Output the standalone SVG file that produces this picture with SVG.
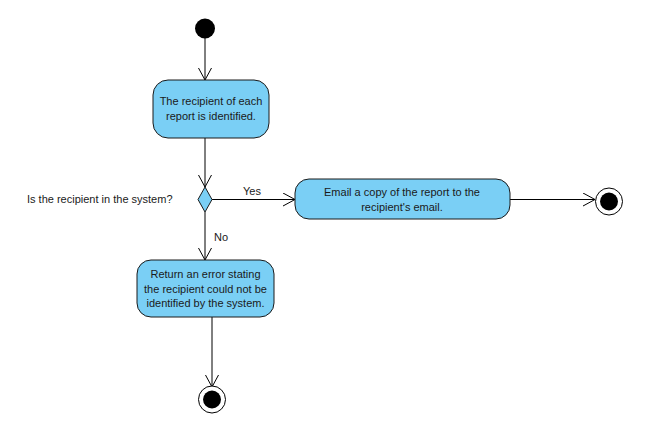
<svg xmlns="http://www.w3.org/2000/svg" width="654" height="425" viewBox="0 0 654 425">
  <defs>
    <marker id="open" markerWidth="16" markerHeight="16" refX="12" refY="7" orient="auto" markerUnits="userSpaceOnUse">
      <path d="M0,0.5 L12,7 L0,13.5" fill="none" stroke="#000" stroke-width="1"/>
    </marker>
  </defs>
  <style>
    .act { fill: #7acff5; stroke: #1a1a1a; stroke-width: 1; }
    .lbl { font-family: "Liberation Sans", Arial, sans-serif; font-size: 11px; fill: #1a1a1a; }
    .mid { text-anchor: middle; }
    .edge { fill: none; stroke: #000; stroke-width: 1; marker-end: url(#open); }
  </style>
  <rect width="654" height="425" fill="#fff"/>

  <g id="connectors">
    <path class="edge" d="M205,38 V80"/>
    <path class="edge" d="M205,138 V187"/>
    <path class="edge" d="M212,199.5 H295"/>
    <path class="edge" d="M510,199.5 H595"/>
    <path class="edge" d="M205,212 V260"/>
    <path class="edge" d="M212,317 V387"/>
    <text class="lbl" x="243" y="195">Yes</text>
    <text class="lbl" x="214" y="241">No</text>
  </g>

  <g id="start">
    <circle cx="205" cy="28.5" r="10" fill="#000"/>
  </g>

  <g id="identify">
    <rect class="act" x="153" y="80" width="116" height="58" rx="15"/>
    <text class="lbl mid" x="211" y="105">The recipient of each</text>
    <text class="lbl mid" x="211" y="120">report is identified.</text>
  </g>

  <g id="decision">
    <polygon points="205,187 212,199.5 205,212 198,199.5" fill="#7acff5" stroke="#1a1a1a"/>
    <text class="lbl" x="27" y="203">Is the recipient in the system?</text>
  </g>

  <g id="email">
    <rect class="act" x="295" y="179" width="215" height="40" rx="14"/>
    <text class="lbl mid" x="402" y="196">Email a copy of the report to the</text>
    <text class="lbl mid" x="402" y="211">recipient's email.</text>
  </g>

  <g id="error">
    <rect class="act" x="137" y="260" width="137" height="57" rx="14"/>
    <text class="lbl mid" x="205.5" y="278">Return an error stating</text>
    <text class="lbl mid" x="205.5" y="293">the recipient could not be</text>
    <text class="lbl mid" x="205.5" y="307">identified by the system.</text>
  </g>

  <g id="end-email">
    <circle cx="609" cy="201.5" r="13.5" fill="#fff" stroke="#000"/>
    <circle cx="609" cy="201.5" r="9" fill="#000"/>
  </g>

  <g id="end-error">
    <circle cx="212" cy="399.5" r="13.5" fill="#fff" stroke="#000"/>
    <circle cx="212" cy="399.5" r="9" fill="#000"/>
  </g>
</svg>
